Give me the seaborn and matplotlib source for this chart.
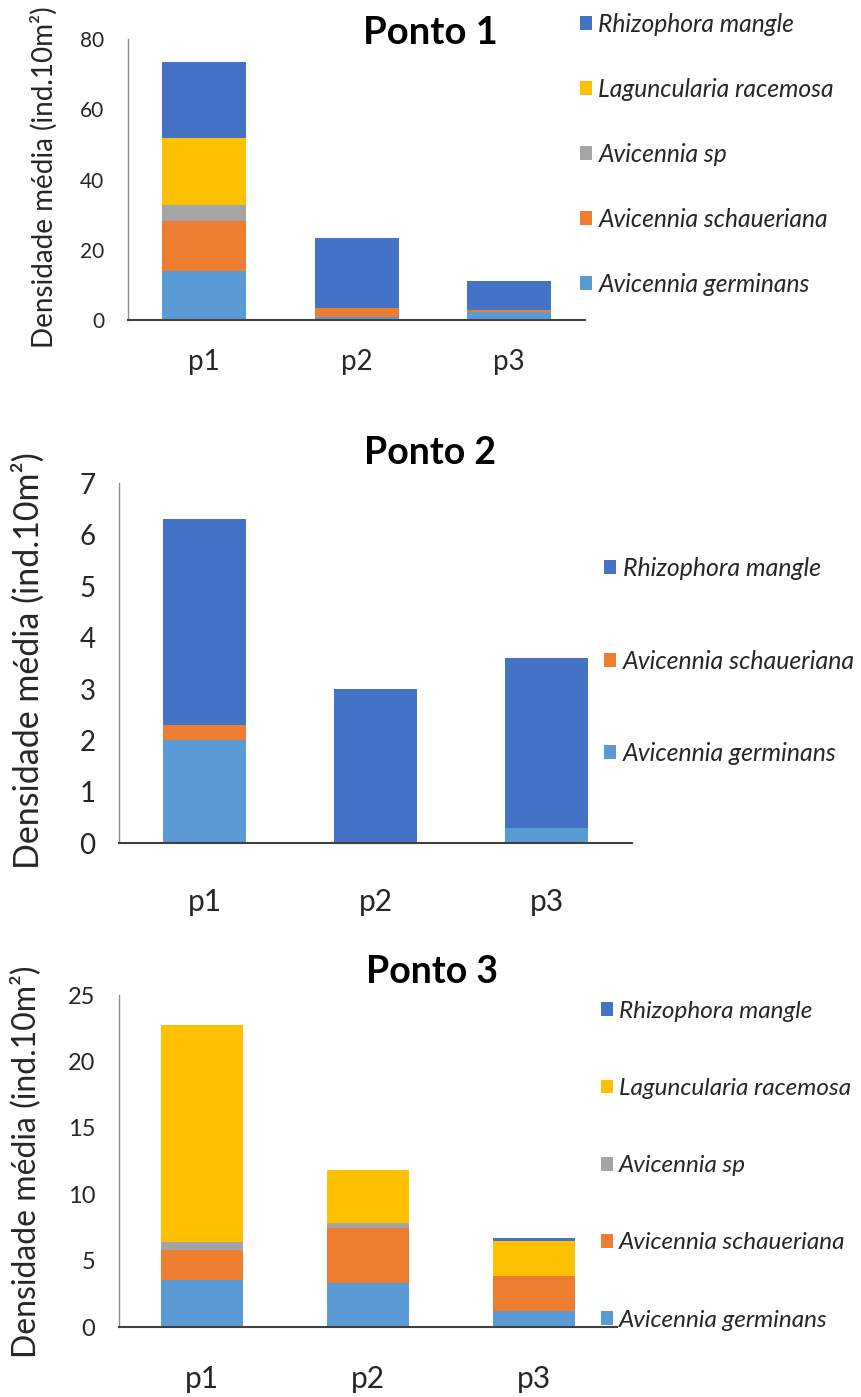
import matplotlib
matplotlib.use("Agg")
import matplotlib.pyplot as plt
import seaborn as sns
import pandas as pd
import numpy as np
from matplotlib.patches import Patch

sns.set_theme(style="white")
plt.rcParams['font.family'] = ['Lato', 'DejaVu Sans']

# ---------------- data ----------------
sites = ["p1", "p2", "p3"]
species = ["Avicennia germinans", "Avicennia schaueriana", "Avicennia sp",
           "Laguncularia racemosa", "Rhizophora mangle"]
colors = {"Avicennia germinans": "#5B9BD5", "Avicennia schaueriana": "#ED7D31",
          "Avicennia sp": "#A5A5A5", "Laguncularia racemosa": "#FFC000",
          "Rhizophora mangle": "#4472C4"}

# Ponto 1
p1_germinans = [14.0, 0.85, 2.3]
p1_schaueriana = [14.3, 2.5, 0.55]
p1_sp = [4.3, 0.0, 0.0]
p1_laguncularia = [19.1, 0.0, 0.0]
p1_rhizophora = [21.7, 20.0, 8.3]

# Ponto 2
p2_germinans = [2.0, 0.0, 0.3]
p2_schaueriana = [0.3, 0.0, 0.0]
p2_rhizophora = [4.0, 3.0, 3.3]

# Ponto 3
p3_germinans = [3.55, 3.3, 1.25]
p3_schaueriana = [2.3, 4.2, 2.58]
p3_sp = [0.57, 0.35, 0.0]
p3_laguncularia = [16.36, 3.97, 2.64]
p3_rhizophora = [0.0, 0.0, 0.25]

panels = [
    dict(title="Ponto 1",
         series={"Avicennia germinans": p1_germinans, "Avicennia schaueriana": p1_schaueriana,
                 "Avicennia sp": p1_sp, "Laguncularia racemosa": p1_laguncularia,
                 "Rhizophora mangle": p1_rhizophora},
         ymax=80, ystep=20),
    dict(title="Ponto 2",
         series={"Avicennia germinans": p2_germinans, "Avicennia schaueriana": p2_schaueriana,
                 "Rhizophora mangle": p2_rhizophora},
         ymax=7, ystep=1),
    dict(title="Ponto 3",
         series={"Avicennia germinans": p3_germinans, "Avicennia schaueriana": p3_schaueriana,
                 "Avicennia sp": p3_sp, "Laguncularia racemosa": p3_laguncularia,
                 "Rhizophora mangle": p3_rhizophora},
         ymax=25, ystep=5),
]

ylabel = "Densidade média (ind.10m²)"

# ---------------- layout (pixels) ----------------
W, H = 862, 1397
fig = plt.figure(figsize=(W / 100, H / 100), dpi=100)

styles = [
    dict(box=(128, 39, 585.5, 320), width=0.55, ytick_fs=15, xtick_fs=20, ylab_fs=20,
         ylab_xy=(44, 177), title_xy=(430, 33), title_fs=27.5, leg_xy=(580, 13),
         leg_fs=17.7, leg_sp=1.71, xpad=21),
    dict(box=(119, 483.3, 632, 843.3), width=0.485, ytick_fs=20, xtick_fs=21.5, ylab_fs=24.5,
         ylab_xy=(28, 661), title_xy=(430, 453), title_fs=27, leg_xy=(604, 557),
         leg_fs=17.9, leg_sp=2.8, xpad=32),
    dict(box=(119, 995, 617, 1327.3), width=0.49, ytick_fs=17, xtick_fs=21.5, ylab_fs=23,
         ylab_xy=(26, 1162), title_xy=(432, 972), title_fs=27, leg_xy=(601, 1001),
         leg_fs=17.5, leg_sp=2.31, xpad=27.5),
]

text_color = "#262626"

for pan, st in zip(panels, styles):
    x0, y0, x1, y1 = st["box"]
    ax = fig.add_axes([x0 / W, 1 - y1 / H, (x1 - x0) / W, (y1 - y0) / H])
    names = [s for s in species if s in pan["series"]]
    df = pd.DataFrame({s: pan["series"][s] for s in names}, index=sites)
    cum = df.cumsum(axis=1)
    # draw from top of stack down so lower segments overlay
    for s in reversed(names):
        sns.barplot(x=sites, y=cum[s].values, color=colors[s], width=st["width"],
                    saturation=1, linewidth=0, ax=ax)
    ax.set_xlim(-0.5, 2.5)
    ax.set_ylim(0, pan["ymax"])
    ax.set_yticks(np.arange(0, pan["ymax"] + 0.001, pan["ystep"]))
    ax.tick_params(axis="y", length=0, pad=17,
                   labelsize=st["ytick_fs"], labelcolor=text_color)
    ax.tick_params(axis="x", length=0, pad=st["xpad"], labelsize=st["xtick_fs"],
                   labelcolor=text_color)
    for sp in ["top", "right"]:
        ax.spines[sp].set_visible(False)
    ax.spines["left"].set_color("#8c8c8c")
    ax.spines["left"].set_linewidth(1.0)
    ax.spines["bottom"].set_color("#404040")
    ax.spines["bottom"].set_linewidth(1.5)
    ax.set_xlabel("")
    ax.set_ylabel("")
    # y label
    fig.text(st["ylab_xy"][0] / W, 1 - st["ylab_xy"][1] / H, ylabel, rotation=90,
             ha="center", va="center", fontsize=st["ylab_fs"], color=text_color)
    # title
    fig.text(st["title_xy"][0] / W, 1 - st["title_xy"][1] / H, pan["title"],
             ha="center", va="center", fontsize=st["title_fs"], fontweight="bold",
             color="black")
    # legend (top species first)
    handles = [Patch(facecolor=colors[s], edgecolor="none", label=s) for s in reversed(names)]
    leg = ax.legend(handles=handles, loc="upper left",
                    bbox_to_anchor=(st["leg_xy"][0] / W, 1 - st["leg_xy"][1] / H),
                    bbox_transform=fig.transFigure, frameon=False, borderpad=0,
                    borderaxespad=0, handlelength=0.5, handleheight=0.5,
                    handletextpad=0.25, labelspacing=st["leg_sp"],
                    prop=dict(size=st["leg_fs"], style="italic"))
    for t in leg.get_texts():
        t.set_color(text_color)

fig.savefig("out.png", dpi=100)
